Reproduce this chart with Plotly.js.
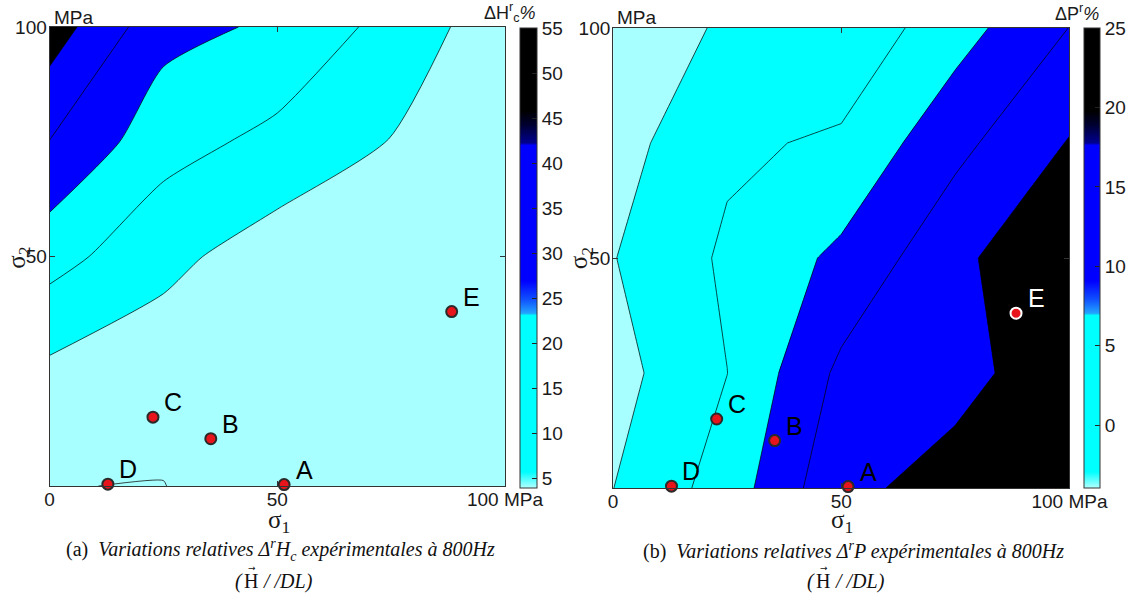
<!DOCTYPE html>
<html>
<head>
<meta charset="utf-8">
<script src="https://cdn.plot.ly/plotly-3.0.1.min.js"></script>
<style>html,body{margin:0;padding:0;background:#fff;}#chart{width:1132px;height:598px;}</style>
</head>
<body>
<div id="chart"></div>
<script>
// ---- data ----
const gridX = [0, 25, 50, 75, 100];           // sigma1 (MPa)
const gridY = [0, 25, 50, 75, 100];           // sigma2 (MPa)
// (a) relative variation of Hc (%), rows = gridY, cols = gridX
const zHc = [
  [5.15, 4.8, 11.9, 8.0, 7.0],
  [12.0, 9.0, 9.5, 8.0, 7.0],
  [26.5, 16.4, 9.45, 9.0, 7.5],
  [40.8, 26.5, 20.5, 13.7, 9.0],
  [54.8, 34.9, 30.5, 20.0, 8.5]
];
// (b) relative variation of P (%)
const zP = [
  [-0.05, 7.27, 18.84, 21.8, 23.0],
  [-1.85, 4.96, 16.12, 18.5, 22.8],
  [-0.19, 5.82, 11.1, 18.72, 25.1],
  [-2.03, 4.15, 5.76, 13.61, 20.3],
  [-3.98, 0.85, 1.26, 7.94, 15.08]
];
const levelsHc = {start: 5, end: 50, size: 9};
const levelsP = {start: 0, end: 20, size: 5};
const cbRangeHc = [3.9, 55];
const cbRangeP = [-3.95, 25];
const cbTicksHc = [5, 10, 15, 20, 25, 30, 35, 40, 45, 50, 55];
const cbTicksP = [0, 5, 10, 15, 20, 25];
// measurement points
const ptNames = ['A', 'B', 'C', 'D', 'E'];
const ptS1 = [51.5, 35.4, 22.7, 12.8, 88.3];
const ptS2 = [0.3, 10.3, 15.0, 0.4, 38.0];
// axis ticks
const xTickVals = [0, 50, 100];
const xTickText = ['0', '50', '100 MPa'];
const yTickVals = [50, 100];
const yTickText = ['50', '100'];

// ---- styling ----
const W = 1132, H = 598;
const px = v => v / W, py = v => 1 - v / H;
const LC = '#a8ffff', C = '#00ffff', B = '#0000ff', K = '#000000';
const fillScaleA = [[0, LC], [0.25, LC], [0.25, C], [0.58, C], [0.58, B], [0.92, B], [0.92, K], [1, K]];
const fillScaleB = [[0, LC], [0.1, LC], [0.1, C], [0.5, C], [0.5, B], [0.9, B], [0.9, K], [1, K]];
const cbScale = [[0, '#b4ffff'], [0.035, '#00ffff'], [0.375, '#00ffff'], [0.38, '#22a4ff'],
  [0.41, '#1050ff'], [0.45, '#0000ff'], [0.745, '#0000ff'], [0.75, '#000090'], [0.79, '#000030'],
  [0.82, '#000000'], [1, '#000000']];
const SANS = 'Liberation Sans, Arial, sans-serif';
const SERIF = 'Liberation Serif, Times New Roman, serif';
const tickFont = {family: SANS, size: 19, color: '#1a1a1a'};

function contourTrace(z, lv, scale, xa, ya, smooth) {
  return {
    type: 'contour', x: gridX, y: gridY, z: z, xaxis: xa, yaxis: ya,
    autocontour: false,
    contours: {start: lv.start, end: lv.end, size: lv.size, coloring: 'fill', showlines: true},
    colorscale: scale, showscale: false,
    line: {color: 'rgba(0,0,0,0.9)', width: 0.8, smoothing: smooth},
    hoverinfo: 'skip'
  };
}
function cbTrace(range, ticks, xa, ya, xPx, thick) {
  return {
    type: 'scatter', mode: 'markers', x: [null, null], y: [null, null], xaxis: xa, yaxis: ya,
    showlegend: false, hoverinfo: 'skip',
    marker: {color: range, cmin: range[0], cmax: range[1], colorscale: cbScale, showscale: true, size: 1,
      colorbar: {x: px(xPx), xanchor: 'left', xpad: 0, y: py(488), yanchor: 'bottom', ypad: 0,
        len: 460, lenmode: 'pixels', thickness: thick, thicknessmode: 'pixels',
        outlinewidth: 1, outlinecolor: '#333', tickmode: 'array', tickvals: ticks,
        ticks: 'inside', ticklen: 5, tickcolor: '#222', tickfont: tickFont}}
  };
}
function pointTrace(xa, ya, edge) {
  return {
    type: 'scatter', mode: 'markers', x: ptS1, y: ptS2, xaxis: xa, yaxis: ya, cliponaxis: false,
    showlegend: false, hoverinfo: 'skip',
    marker: {size: 11, color: '#e8141c', line: {width: 2, color: edge}}
  };
}

const data = [
  contourTrace(zHc, levelsHc, fillScaleA, 'x', 'y', 0.6),
  contourTrace(zP, levelsP, fillScaleB, 'x2', 'y2', 0),
  cbTrace(cbRangeHc, cbTicksHc, 'x', 'y', 524, 17),
  cbTrace(cbRangeP, cbTicksP, 'x2', 'y2', 1093, 16),
  pointTrace('x', 'y', ptNames.map(() => '#2a2a2a')),
  pointTrace('x2', 'y2', ptNames.map(n => n === 'E' ? '#ffffff' : '#2a2a2a'))
];

function xAxis(l, r) {
  return {domain: [px(l), px(r)], range: [0, 100], tickmode: 'array', tickvals: xTickVals, ticktext: xTickText,
    ticks: 'inside', ticklen: 5, tickcolor: '#333', showline: true, linecolor: '#333', linewidth: 1,
    mirror: 'ticks', showgrid: false, zeroline: false, tickfont: tickFont, fixedrange: true,
    ticklabelstandoff: -4};
}
function yAxis(t, b) {
  return {domain: [py(b), py(t)], range: [0, 100], tickmode: 'array', tickvals: yTickVals, ticktext: yTickText,
    ticks: 'inside', ticklen: 5, tickcolor: '#333', showline: true, linecolor: '#333', linewidth: 1,
    mirror: 'ticks', showgrid: false, zeroline: false, tickfont: tickFont, fixedrange: true,
    ticklabelstandoff: -2};
}

const annotations = [];
function ann(o) { annotations.push(Object.assign({showarrow: false, xref: 'paper', yref: 'paper'}, o)); }
// point labels
[['x', 'y'], ['x2', 'y2']].forEach((ax, k) => {
  ptNames.forEach((n, i) => {
    annotations.push({xref: ax[0], yref: ax[1], x: ptS1[i], y: ptS2[i], text: n, showarrow: false,
      xshift: 20, yshift: 15, font: {family: SANS, size: 25, color: (k === 1 && n === 'E') ? '#fff' : '#000'}});
  });
});
// unit labels, axis symbols, colorbar titles
ann({x: px(52), y: py(18), xanchor: 'left', yanchor: 'middle', text: 'MPa', font: tickFont});
ann({x: px(620), y: py(18), xanchor: 'left', yanchor: 'middle', text: 'MPa', font: tickFont});
const symFont = {family: SERIF, size: 25, color: '#1a1a1a'};
ann({x: px(281), y: py(521), xanchor: 'center', yanchor: 'middle', text: 'σ<sub>1</sub>', font: symFont});
ann({x: px(849), y: py(521), xanchor: 'center', yanchor: 'middle', text: 'σ<sub>1</sub>', font: symFont});
ann({x: px(19), y: py(258), xanchor: 'center', yanchor: 'middle', textangle: -90, text: 'σ<sub>2</sub>', font: symFont});
ann({x: px(586), y: py(258), xanchor: 'center', yanchor: 'middle', textangle: -90, text: 'σ<sub>2</sub>', font: symFont});
ann({x: px(542), y: py(13), xanchor: 'right', yanchor: 'middle', text: 'ΔH<sup>r</sup><sub>c</sub><i>%</i>', font: {family: SANS, size: 18, color: '#1a1a1a'}});
ann({x: px(1110), y: py(13), xanchor: 'right', yanchor: 'middle', text: 'ΔP<sup>r</sup><i>%</i>', font: {family: SANS, size: 18, color: '#1a1a1a'}});
// captions
const capFont = {family: SERIF, size: 20, color: '#111'};
const capCentres = [283, 860];
const capLines = ['(a)  <i>Variations relatives Δ<sup>r</sup>H<sub>c</sub> expérimentales à 800Hz</i>',
                  '(b)  <i>Variations relatives Δ<sup>r</sup>P expérimentales à 800Hz</i>'];
capCentres.forEach((cx, i) => {
  ann({x: px(cx), y: py(550), xanchor: 'center', yanchor: 'middle', text: capLines[i], font: capFont});
  const hx = cx - 30;
  ann({x: px(hx - 6), y: py(581), xanchor: 'right', yanchor: 'middle', text: '<i>(</i>', font: capFont});
  ann({x: px(hx), y: py(581), xanchor: 'center', yanchor: 'middle', text: 'H', font: capFont});
  ann({x: px(hx + 1), y: py(568), xanchor: 'center', yanchor: 'middle', text: '→', font: {family: 'DejaVu Sans', size: 9, color: '#111'}});
  ann({x: px(hx + 10), y: py(581), xanchor: 'left', yanchor: 'middle', text: '<i>/ /DL)</i>', font: capFont});
});

const layout = {
  width: W, height: H, margin: {l: 0, r: 0, t: 0, b: 0},
  paper_bgcolor: '#fff', plot_bgcolor: '#fff', showlegend: false,
  xaxis: Object.assign(xAxis(50, 509), {anchor: 'y'}),
  yaxis: Object.assign(yAxis(27, 486), {anchor: 'x'}),
  xaxis2: Object.assign(xAxis(618, 1078), {anchor: 'y2'}),
  yaxis2: Object.assign(yAxis(28, 488), {anchor: 'x2'}),
  annotations: annotations
};
Plotly.newPlot('chart', data, layout, {displayModeBar: false, staticPlot: true});
</script>
</body>
</html>
